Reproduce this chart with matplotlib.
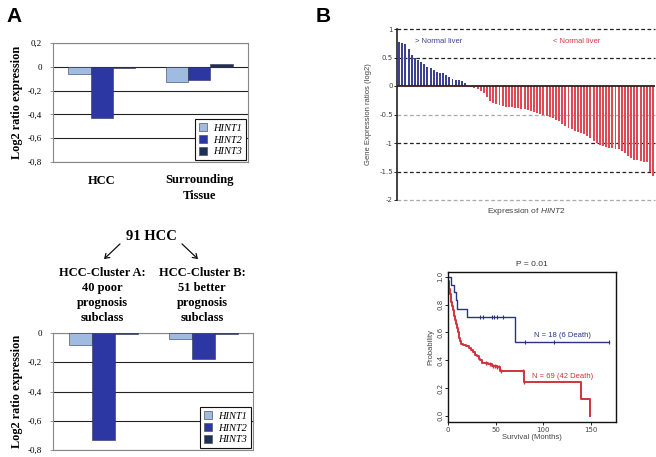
import numpy as np
import matplotlib
matplotlib.use("Agg")
import matplotlib.pyplot as plt
from matplotlib.patches import Patch, FancyArrowPatch

plt.rcParams["mathtext.fontset"] = "custom"
plt.rcParams["mathtext.it"] = "Liberation Sans:italic"
plt.rcParams["mathtext.rm"] = "Liberation Sans"

W, H = 656, 457
SERIF = "Liberation Serif"
SANS = "Liberation Sans"

# ---- data: panel A ----
genes = ["HINT1", "HINT2", "HINT3"]
gene_colors = ["#9fbbe0", "#2c37a3", "#1c3157"]
tissue_groups = ["HCC", "Surrounding\nTissue"]
tissue_vals = {"HINT1": [-0.06, -0.13], "HINT2": [-0.43, -0.11], "HINT3": [-0.01, 0.02]}
cluster_groups = ["Cluster A", "Cluster B"]
cluster_vals = {"HINT1": [-0.08, -0.04], "HINT2": [-0.73, -0.18], "HINT3": [-0.005, -0.01]}
cluster_labels = ["HCC-Cluster A:\n40 poor\nprognosis\nsubclass",
                  "HCC-Cluster B:\n51 better\nprognosis\nsubclass"]

# ---- data: panel B waterfall (log2 ratio, sorted) ----
above_normal = [0.78, 0.75, 0.74, 0.65, 0.54, 0.50, 0.46, 0.42, 0.38, 0.34, 0.31,
                0.28, 0.25, 0.23, 0.22, 0.20, 0.15, 0.13, 0.11, 0.10, 0.09, 0.05]
below_normal = [-0.01, -0.02, -0.03, -0.05, -0.08, -0.13, -0.20, -0.26, -0.29, -0.32,
                -0.34, -0.35, -0.36, -0.37, -0.37, -0.38, -0.39, -0.40, -0.41, -0.42,
                -0.43, -0.45, -0.47, -0.49, -0.50, -0.52, -0.54, -0.57, -0.59, -0.61,
                -0.66, -0.70, -0.73, -0.76, -0.79, -0.81, -0.83, -0.85, -0.88, -0.92,
                -0.96, -1.00, -1.03, -1.05, -1.07, -1.08, -1.09, -1.10, -1.11, -1.14,
                -1.18, -1.22, -1.26, -1.29, -1.30, -1.32, -1.33, -1.34, -1.50, -1.58]

# ---- data: panel B Kaplan-Meier ----
high_t = [0, 3.5, 6, 8, 9.5, 20, 70, 169]
high_s = [1.0, 0.94, 0.89, 0.83, 0.77, 0.71, 0.53, 0.53]
high_cens = [34, 37, 46, 48, 51, 58, 81, 111, 169]
low_t = [0, 0.5, 1, 1.5, 2, 3, 3.5, 4, 5, 6, 7, 8, 9, 10, 11, 12, 13, 14, 16, 19, 22,
         24, 26, 28, 30, 32, 34, 36, 42, 46, 51, 54, 80, 139, 149]
low_s = [1.0, 0.97, 0.94, 0.91, 0.88, 0.85, 0.82, 0.79, 0.76, 0.72, 0.69, 0.66, 0.63,
         0.60, 0.58, 0.56, 0.54, 0.52, 0.51, 0.50, 0.49, 0.47, 0.46, 0.44, 0.43, 0.41,
         0.40, 0.38, 0.37, 0.36, 0.35, 0.32, 0.24, 0.12, 0.0]
low_cens = [40, 44, 47, 49, 51, 53, 55, 79, 80]


def rect(x0, y0, x1, y1):
    """pixel box (top-left origin) -> figure fraction [l, b, w, h]"""
    return [x0 / W, 1 - y1 / H, (x1 - x0) / W, (y1 - y0) / H]


def fx(x, y):
    return x / W, 1 - y / H


def step_at(t, s, when):
    idx = np.searchsorted(t, when, side="right") - 1
    return np.asarray(s)[idx]


def comma(t):
    if abs(t) < 1e-9:
        return "0"
    return ("%.1f" % t).replace(".", ",")


def grouped_bars(ax, vals, groups, ylim, ticks):
    x = np.arange(len(groups))
    bw = 0.23
    for k, g in enumerate(genes):
        ax.bar(x + (k - 1) * bw, vals[g], bw, color=gene_colors[k],
               edgecolor="#333355", linewidth=0.4, zorder=3)
    for t in ticks:
        ax.axhline(t, color="#222222", lw=0.8, zorder=1)
    ax.set_xlim(-0.5, 1.5)
    ax.set_ylim(*ylim)
    ax.set_yticks(ticks)
    ax.set_yticklabels([comma(t) for t in ticks], fontfamily=SERIF, fontsize=6.5)
    ax.tick_params(axis="y", length=2, width=0.6, color="#888888", pad=6)
    ax.tick_params(axis="x", length=0)
    for sp in ax.spines.values():
        sp.set_color("#888888")
        sp.set_linewidth(0.8)
    ax.set_ylabel("Log2 ratio expression", fontfamily=SERIF, fontweight="bold",
                  fontsize=8.8, labelpad=3)
    handles = [Patch(facecolor=c, edgecolor="#555555", linewidth=0.5) for c in gene_colors]
    leg = ax.legend(handles, genes, loc="lower right", borderaxespad=0.15,
                    fancybox=False, framealpha=1, edgecolor="#111111",
                    handlelength=0.8, handleheight=0.8, handletextpad=0.6,
                    labelspacing=0.2, borderpad=0.4,
                    prop={"family": SERIF, "style": "italic", "size": 7.5})
    leg.get_frame().set_linewidth(0.8)
    return x


fig = plt.figure(figsize=(W / 100, H / 100), dpi=100)

# ---------------- panel A top ----------------
axA1 = fig.add_axes(rect(53, 43, 248, 162))
x = grouped_bars(axA1, tissue_vals, tissue_groups, (-0.8, 0.2),
                 [0.2, 0.0, -0.2, -0.4, -0.6, -0.8])
axA1.set_xticks(x)
axA1.set_xticklabels(tissue_groups, fontfamily=SERIF, fontweight="bold", fontsize=9,
                     linespacing=1.4)
axA1.tick_params(axis="x", pad=9)

# ---------------- panel A bottom ----------------
axA2 = fig.add_axes(rect(53, 333, 253, 450))
grouped_bars(axA2, cluster_vals, cluster_groups, (-0.8, 0.0),
             [0.0, -0.2, -0.4, -0.6, -0.8])
axA2.set_xticks([])

fig.text(*fx(151, 236), "91 HCC", fontfamily=SERIF, fontweight="bold", fontsize=10.5,
         ha="center", va="center")
for (x0, x1) in [(122, 102), (180, 200)]:
    fig.add_artist(FancyArrowPatch(fx(x0, 242), fx(x1, 261), transform=fig.transFigure,
                                   arrowstyle="->,head_length=3,head_width=2",
                                   color="#111111", lw=0.9))
for cx, lab in zip([102, 202], cluster_labels):
    fig.text(*fx(cx, 267), lab, fontfamily=SERIF, fontweight="bold", fontsize=9,
             ha="center", va="top", linespacing=1.32)

fig.text(*fx(6, 16), "A", fontfamily=SANS, fontweight="bold", fontsize=15,
         ha="left", va="center")
fig.text(*fx(316, 16), "B", fontfamily=SANS, fontweight="bold", fontsize=15,
         ha="left", va="center")

# ---------------- panel B waterfall ----------------
gray = "#444444"
axW = fig.add_axes(rect(397, 29, 655, 200))
n_up = len(above_normal)
vals = above_normal + below_normal
xb = np.arange(len(vals))
axW.bar(xb[:n_up], above_normal, 0.62, color="#3c4290", linewidth=0, zorder=3)
axW.bar(xb[n_up:], below_normal, 0.62, color="#dd4a55", linewidth=0, zorder=3)
axW.set_xlim(-0.7, len(vals) - 0.4)
axW.set_ylim(-2, 1)
for t, c in [(1, "#222222"), (0.5, "#222222"), (-0.5, "#aaaaaa"), (-1, "#222222"),
             (-1.5, "#222222"), (-2, "#aaaaaa")]:
    axW.axhline(t, color=c, lw=0.9, ls=(0, (3, 2)), zorder=1, clip_on=False)
axW.axhline(0, color="#3a1c1c", lw=1.3, zorder=4)
for s in ["top", "right", "bottom"]:
    axW.spines[s].set_visible(False)
axW.spines["left"].set_linewidth(1.2)
axW.spines["left"].set_color("#222222")
axW.set_yticks([1, 0.5, 0, -0.5, -1, -1.5, -2])
axW.set_yticklabels(["1", "0.5", "0", "-0.5", "-1", "-1.5", "-2"])
axW.tick_params(axis="y", labelsize=5, labelcolor=gray, length=2, width=0.6, pad=1)
axW.set_xticks([])
axW.set_ylabel("Gene Expression ratios (log2)", fontfamily=SANS, fontsize=5.5,
               color=gray, labelpad=5)
axW.set_xlabel("Expression of $\\it{HINT2}$", fontfamily=SANS, fontsize=6,
               color=gray, labelpad=4)
axW.text(5, 0.78, "> Normal liver", color="#3c4290", fontfamily=SANS, fontsize=5.5,
         va="center")
axW.text(49, 0.78, "< Normal liver", color="#d03a45", fontfamily=SANS, fontsize=5.5,
         va="center")

# ---------------- panel B Kaplan-Meier ----------------
axK = fig.add_axes(rect(448, 272, 616, 422))
blue, red = "#2a3580", "#d0333c"
axK.step(high_t, high_s, where="post", color=blue, lw=1.0)
axK.plot(high_cens, step_at(high_t, high_s, high_cens), ls="none", marker="|",
         color=blue, ms=3, mew=0.8)
axK.step(low_t, low_s, where="post", color=red, lw=1.4)
axK.plot(low_cens, step_at(low_t, low_s, low_cens), ls="none", marker="|",
         color=red, ms=3.5, mew=1.0)
axK.set_xlim(0, 176)
axK.set_ylim(-0.045, 1.035)
axK.set_xticks([0, 50, 100, 150])
axK.set_yticks([0.0, 0.2, 0.4, 0.6, 0.8, 1.0])
axK.set_yticklabels(["0.0", "0.2", "0.4", "0.6", "0.8", "1.0"], rotation=90, va="center")
axK.tick_params(labelsize=5, labelcolor=gray, length=2, width=0.6, pad=1.5)
for sp in axK.spines.values():
    sp.set_linewidth(1.0)
    sp.set_color("#111111")
axK.set_title("P = 0.01", fontfamily=SANS, fontsize=6, color="#333333", pad=4)
axK.set_xlabel("Survival (Months)", fontfamily=SANS, fontsize=5.5, color=gray, labelpad=1)
axK.set_ylabel("Probability", fontfamily=SANS, fontsize=5.5, color=gray, labelpad=2)
axK.text(90, 0.575, "N = 18 (6 Death)", color=blue, fontfamily=SANS, fontsize=5.5,
         va="center")
axK.text(88, 0.285, "N = 69 (42 Death)", color=red, fontfamily=SANS, fontsize=5.5,
         va="center")

fig.savefig("out.png", dpi=100)
